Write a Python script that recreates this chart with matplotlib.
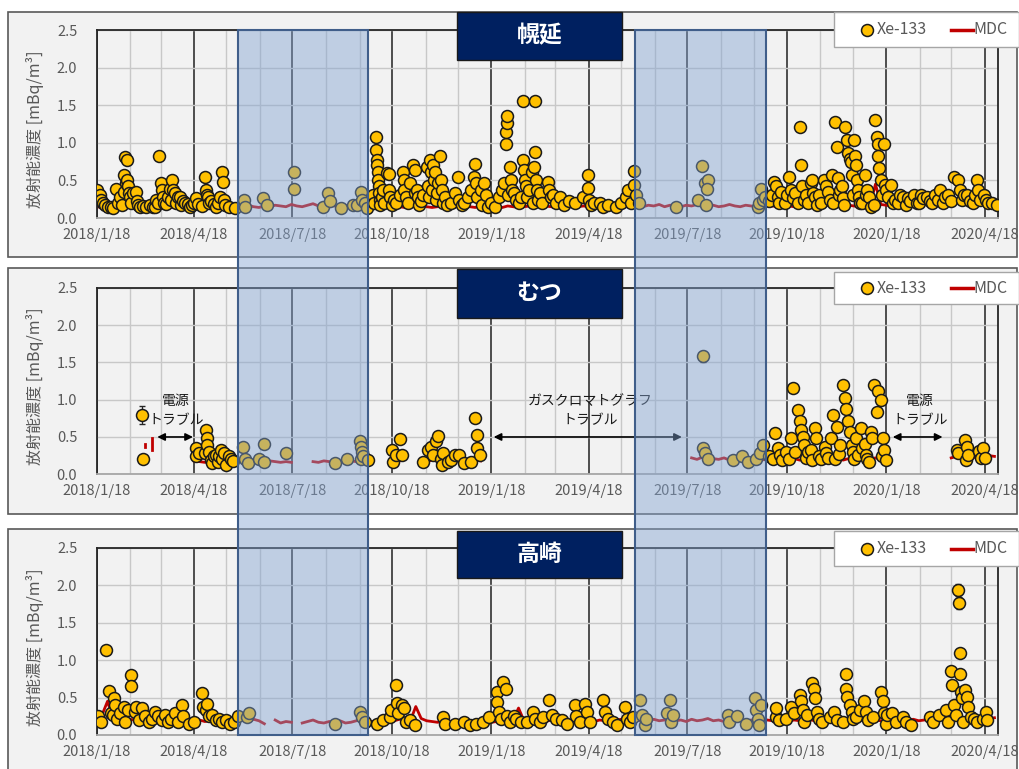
import matplotlib
matplotlib.use("Agg")
import matplotlib.pyplot as plt
import matplotlib.dates as mdates
from matplotlib.patches import Rectangle
from matplotlib.lines import Line2D
import numpy as np
import pandas as pd

plt.rcParams['font.family'] = ['Noto Sans CJK JP', 'DejaVu Sans']

# ---- data (day offsets from 2018/1/18, values in mBq/m3) ----
T0 = pd.Timestamp("2018-01-18")
XMAX = pd.Timestamp("2020-04-30")
na = np.nan

sites = ["幌延", "むつ", "高崎"]

horonobe_xe = [
    (0, .37), (1, .28), (3, .30), (4, .24), (6, .20), (8, .17), (10, .15), (13, .14), (15, .13), (18, .39),
    (20, .20), (22, .28), (23, .17), (25, .35), (25, .57), (26, .81), (27, .46), (28, .77), (28, .50), (29, .42),
    (30, .33), (31, .28), (32, .20), (34, .33), (36, .35), (37, .22), (38, .17), (40, .15), (43, .16), (46, .15),
    (49, .17), (52, .14), (54, .15), (55, .24), (57, .20), (58, .82), (59, .46), (60, .37), (61, .28), (62, .20),
    (64, .18), (66, .28), (68, .39), (69, .24), (70, .50), (71, .37), (72, .33), (73, .20), (75, .28), (77, .28),
    (78, .17), (80, .22), (82, .20), (84, .18), (86, .15), (88, .17), (90, .20), (92, .26), (94, .18), (97, .16),
    (100, .55), (101, .37), (102, .30), (103, .28), (104, .20), (106, .22), (108, .18), (110, .15), (112, .20),
    (114, .28), (116, .61), (117, .48), (118, .24), (119, .17), (122, .15), (128, .13),
    (136, .24), (137, .15), (154, .26), (157, .17), (182, .61), (182, .39), (209, .15), (214, .33), (216, .22),
    (226, .13), (237, .17), (241, .17), (244, .35), (245, .24), (248, .20), (250, .13),
    (255, .30), (256, .20), (258, 1.08), (258, .90), (259, .77), (259, .70), (260, .61), (260, .50), (261, .42),
    (261, .33), (262, .24), (262, .17), (264, .28), (265, .37), (266, .20), (268, .60), (270, .59), (270, .37),
    (271, .28), (273, .17), (275, .24), (277, .20), (280, .30), (283, .61), (284, .50), (284, .37), (286, .28),
    (288, .20), (290, .46), (292, .70), (294, .64), (294, .33), (296, .37), (297, .28), (298, .17), (300, .22),
    (302, .30), (305, .68), (306, .42), (307, .28), (308, .77), (309, .61), (310, .37), (311, .70), (312, .50),
    (313, .61), (314, .24), (315, .33), (316, .46), (317, .82), (318, .50), (319, .37), (320, .20), (322, .28),
    (324, .17), (328, .20), (331, .33), (334, .55), (335, .24), (338, .17), (340, .20), (343, .28), (346, .37),
    (349, .55), (350, .72), (351, .46), (352, .28), (355, .37), (356, .17), (358, .46), (360, .30), (362, .15),
    (365, .20), (368, .15),
    (372, .28), (375, .37), (377, .46), (378, .99), (378, 1.15), (379, 1.26), (379, 1.35), (380, .30), (382, .68),
    (383, .50), (384, .37), (386, .33), (388, .24), (390, .20), (392, .28), (394, 1.55), (394, .77), (395, .64),
    (396, .50), (397, .42), (398, .28), (400, .37), (402, .61), (403, .20), (404, .68), (405, 1.55), (405, .88),
    (406, .50), (407, .37), (408, .24), (410, .33), (412, .20),
    (417, .48), (418, .37), (420, .28), (422, .30), (425, .20), (428, .28), (432, .17), (437, .22), (442, .20),
    (450, .28), (454, .57), (454, .40), (455, .24), (457, .17), (460, .20), (465, .20), (468, .15), (473, .17),
    (480, .15), (485, .20), (489, .28), (491, .37), (494, .20), (497, .62), (497, .44), (499, .30), (501, .20),
    (536, .15), (556, .24), (560, .69), (562, .46), (565, .50), (564, .39), (563, .17), (611, .15), (612, .20),
    (614, .39), (616, .24), (618, .28),
    (622, .22), (624, .30), (626, .48), (628, .42), (630, .28), (631, .20), (633, .35), (636, .20), (638, .30),
    (640, .55), (642, .37), (644, .26), (646, .33), (648, .20), (650, 1.21), (651, .70), (652, .42), (654, .24),
    (656, .30), (658, .20), (660, .46), (661, .50), (662, .33), (664, .28), (666, .17), (668, .30), (670, .20),
    (672, .50), (674, .42), (676, .35), (678, .24), (680, .57), (681, .20), (683, 1.28), (684, .95), (685, .53),
    (686, .30), (687, .37), (689, .42), (690, .26), (691, .17), (692, 1.21), (694, 1.04), (695, .86), (696, .79),
    (697, .75), (698, .57), (699, .30), (700, 1.04), (701, .82), (702, .70), (703, .50), (704, .37), (705, .28),
    (706, .20), (708, .20), (710, .57), (711, .30), (712, .37), (714, .28), (716, .15), (719, .17), (720, 1.30),
    (721, 1.08), (722, .99), (722, .82), (723, .66), (725, .50), (726, .30), (728, .99), (729, .44), (730, .37),
    (732, .28), (734, .44), (736, .20), (738, .24),
    (741, .20), (743, .30), (745, .28), (748, .17), (750, .26), (752, .22), (756, .31), (758, .20), (760, .20),
    (762, .30), (764, .26), (768, .28), (770, .22), (772, .20), (775, .31), (778, .24), (780, .37), (782, .20),
    (784, .28), (787, .30), (790, .22), (793, .55), (796, .50), (798, .37), (800, .24), (802, .30), (805, .31),
    (807, .22), (810, .20), (812, .30), (814, .50), (815, .37), (817, .24), (820, .31), (822, .24), (824, .20),
    (828, .20), (832, .17),
]

mutsu_xe = [
    (42, .80), (43, .21),
    (92, .35), (92, .24), (95, .29), (100, .28), (101, .59), (102, .48), (102, .39), (104, .30), (106, .19),
    (107, .15), (108, .24), (110, .26), (112, .17), (113, .24), (115, .33), (116, .21), (118, .28), (120, .13),
    (122, .24), (124, .20), (126, .18),
    (135, .37), (137, .21), (140, .15), (150, .20), (155, .40), (155, .17), (175, .28), (220, .15), (231, .21),
    (243, .45), (244, .37), (245, .30), (244, .21), (246, .24), (251, .19),
    (273, .33), (274, .17), (277, .26), (280, .47), (282, .26),
    (302, .17), (306, .33), (309, .37), (311, .26), (314, .44), (316, .51), (318, .21), (319, .13), (320, .28),
    (325, .17), (328, .19), (331, .26), (335, .26), (340, .15), (346, .17), (350, .75), (352, .53), (352, .35),
    (354, .26),
    (561, 1.58), (561, .35), (562, .28), (565, .21), (588, .19), (597, .24), (602, .17), (610, .21), (613, .28),
    (616, .39),
    (622, .24), (625, .20), (627, .55), (630, .35), (632, .26), (634, .19), (637, .30), (640, .20), (642, .48),
    (644, 1.15), (646, .30), (648, .86), (650, .71), (651, .60), (653, .50), (654, .39), (656, .22), (658, .30),
    (660, .33), (661, .19), (664, .62), (665, .48), (668, .24), (670, .20), (673, .37), (674, .28), (676, .22),
    (679, .48), (681, .80), (683, .20), (684, .64), (686, .27), (687, .39), (690, 1.20), (692, 1.02), (693, .88),
    (695, .71), (696, .57), (698, .39), (699, .30), (700, .20), (702, .48), (704, .26), (707, .62), (708, .35),
    (710, .40), (711, .26), (712, .20), (714, .17), (716, .57), (717, .48), (719, 1.20), (721, .84), (722, 1.11),
    (725, .99), (726, .25), (727, .48), (728, .33), (730, .19),
    (795, .33), (796, .28), (803, .46), (804, .19), (805, .37), (806, .26), (816, .31), (818, .22), (819, .35),
    (821, .22),
]

takasaki_xe = [
    (1, .25), (4, .18), (9, 1.14), (11, .59), (13, .29), (15, .27), (16, .49), (17, .40), (19, .22), (22, .29),
    (25, .38), (26, .18), (29, .33), (32, .80), (32, .65), (35, .31), (36, .38), (39, .20), (42, .36), (45, .25),
    (48, .18), (51, .22), (54, .31), (57, .25), (60, .20), (63, .27), (66, .18), (69, .22), (72, .29), (75, .18),
    (79, .40), (80, .25), (85, .15), (90, .18), (97, .56), (98, .38), (101, .33), (102, .42), (104, .25),
    (107, .27), (110, .20), (113, .22), (116, .18), (120, .20), (123, .15), (127, .18), (131, .26),
    (139, .24), (141, .29), (220, .15), (243, .31), (245, .24), (248, .18),
    (259, .15), (265, .20), (271, .24), (272, .33), (277, .67), (278, .43), (279, .29), (282, .40), (284, .36),
    (286, .18), (290, .20), (294, .13), (320, .24), (322, .15), (331, .15), (340, .18), (345, .13), (351, .15),
    (357, .18), (363, .24),
    (370, .58), (370, .44), (372, .31), (374, .22), (376, .71), (378, .62), (379, .25), (382, .18), (386, .25),
    (388, .22), (392, .18), (398, .17), (403, .31), (405, .22), (410, .17), (413, .24), (418, .47), (421, .27),
    (425, .22), (430, .20), (435, .15), (442, .40), (443, .25), (447, .18), (451, .42), (453, .31), (456, .18),
    (468, .47), (470, .31), (473, .22), (477, .18), (481, .13), (488, .38), (490, .22), (493, .18), (496, .24),
    (502, .47), (504, .27), (507, .13), (508, .22), (527, .29), (530, .47), (531, .18), (533, .27), (584, .27),
    (585, .18), (592, .26), (600, .15), (609, .49), (610, .33), (611, .22), (612, .13), (614, .40),
    (628, .24), (628, .36), (631, .20), (637, .22), (642, .38), (645, .29), (650, .53), (651, .45), (653, .33),
    (654, .18), (657, .27), (661, .69), (663, .62), (664, .49), (666, .31), (668, .22), (671, .18), (678, .24),
    (682, .31), (684, .20), (690, .18), (693, .82), (693, .62), (694, .51), (696, .40), (698, .31), (699, .22),
    (702, .24), (706, .33), (709, .45), (711, .31), (713, .20), (718, .24), (725, .58), (727, .45), (728, .29),
    (730, .15), (731, .27), (735, .29), (739, .18), (745, .24), (748, .18), (753, .13),
    (770, .24), (773, .18), (779, .27), (785, .33), (787, .18), (790, .85), (791, .67), (793, .40), (794, .27),
    (796, 1.94), (797, 1.76), (798, 1.09), (798, .82), (799, .58), (800, .49), (801, .18), (803, .60), (805, .51),
    (806, .38), (808, .24), (811, .22), (814, .18), (819, .22), (822, .31), (823, .20),
]

# error bars only visible on a few points: (day, value, err)
horonobe_err = [(394, 1.55, .05), (405, 1.55, .05), (650, 1.21, .03), (683, 1.28, .03), (720, 1.30, .04)]
mutsu_err = [(42, .80, .12), (561, 1.58, .07), (644, 1.15, .04), (690, 1.20, .04), (719, 1.20, .04)]
takasaki_err = [(9, 1.14, .04), (796, 1.94, .08), (797, 1.76, .08)]

# MDC, one value every 5 days from 2018/1/18
mdc_step = 5
horonobe_mdc = [
    .15, .14, .16, .15, .13, .15, .16, .14, .15, .17, .15, .14, .16, .15, .14, .16, .15, .17, .15, .14, .16, .15, .14, .15, .16, .14,
    .16, .15, .17, .15, .14, .16, .15, .17, .16, .15, .18, .16, .15, .17, .19, .16, .15, .17, .16, .15, .17, .15, .16, .17, .15,
    .15, .16, .14, .15, .16, .15, .14, .16, .15, .17, .15, .14, .15, .16, .15, .14, .16, .15, .15, .14, .16, .15, .17, .15, .14,
    .16, .15, .14, .15, .16, .15, .17, .16, .15, .14, .16, .15, .17, .15, .16, .15, .17, .18, .16, .15, .17, .16, .15, .17,
    .16, .15, .17, .16, .18, .15, .17, .16, .15, .17, .16, .18, .15, .16, .17, .15, .16, .18, .16, .15, .17, .16, .15, .17, .16,
    .16, .15, .17, .16, .15, .16, .17, .15, .16, .15, .17, .16, .15, .16, .17, .16, .15, .16, .17, .45, .18, .17, .16, .15, .30,
    .22, .20, .21, .19, .20, .22, .20, .19, .21, .20, .22, .21, .20, .22, .21, .23, .22,
]
mutsu_mdc = [
    na, na, na, na, na, na, na, na, na, .37, na,
    .44, na, na, na, na, na, na,
    .18, .17, .16, .18, .17, .15, .17, .16, .18, .17, .15, .16, .17, .16, .18, .17, .16, .17, .16,
    na, na, na,
    .17, .16, .18, .17, .15, .17, .16, .18, .17, .16, .17,
    na, na, na, na,
    .17, .18,
    na, na, na,
    .18, .17, .19, .18, .20, .17, .18, .19, .17, .18, .19, .18,
    na, na, na, na, na, na, na, na, na, na, na, na, na, na, na, na, na, na, na,
    na, na, na, na, na, na, na, na, na, na, na, na, na, na, na, na, na, na, na,
    .22, .20, .23, .19, .21, .20, .22, .19, .21, .20, .18, .21, .20, .19, .21, .20, .22, .19, .20,
    .21, .19, .20, .22, .20, .19, .21, .20, .22, .19, .21, .20, .19, .21, .20, .22, .20, .21,
    na, na, na, na, na, na, na, na, na, na, na,
    .22, .24, .23, .25, .22, .24, .23, .25, .24,
]
# isolated MDC dashes at the start of the むつ record: (day, low, high)
mutsu_mdc_dash = [(45, .36, .41), (51, .33, .48)]
takasaki_mdc = [
    .25, .27, .45, .22, .20, .19, .21, .20, .18, .20, .19, .21, .20, .18, .19, .20, .18, .19, .21, .20, .18, .19, .20, .18, .19, .20,
    .19, .20, .18, .21, .19, .15, na, .20, .16, .18, .17, na, .16, .18, .20, .17, .16, .18, .17, .19, .16, .17, .19, .20, .18,
    .18, .19, .20, .18, .19, .21, .20, .19, .38, .22, .19, .18, .17, .18, .19, .17, .18, .19, .18, .17, .19, .18, .17, .18, .20,
    .19, .20, .36, .19, .18, .20, .19, .18, .20, .19, .18, .20, .19, .21, .20, .19, .18, .20, .19, .18, .20, .21, .19, .20,
    .19, .20, .18, .21, .19, .20, .22, .19, .20, .18, .21, .19, .20, .22, .19, .20, .18, .19, .21, .20, .18, .20, .19, .21, .20,
    .19, .20, .18, .19, .20, .19, .18, .20, .19, .21, .20, .18, .19, .20, .18, .19, .20, .19, .21, .20, .19, .18, .20, .19, .18,
    .20, .21, .19, .20, .22, .20, .21, .19, .22, .20, .21, .23, .21, .22, .24, .22, .23,
]

# summer periods shaded across all three panels
shade_from = ["2018-05-29", "2019-05-31"]
shade_to = ["2018-09-26", "2019-09-29"]

# panel-2 trouble annotations: (from, to, label, label centre)
troubles = [
    ("2018-03-15", "2018-04-17", "電源", "トラブル", "2018-04-01"),
    ("2019-01-20", "2019-07-13", "ガスクロマトグラフ", "トラブル", "2019-04-19"),
    ("2020-01-24", "2020-03-10", "電源", "トラブル", "2020-02-18"),
]

# ---- layout (pixel rows of the reference) ----
W, H = 1019, 769
fx = lambda x: x / W
fy = lambda y: 1 - y / H
ax_rows = [(30, 218), (287.7, 474.3), (547.7, 735)]
box_rows = [(12, 257), (268, 514), (529, 800)]
title_rows = [(12, 60), (269, 318), (531, 578)]
legend_rows = [(12, 47), (272, 304), (531, 566)]

YEL, RED, GREY = "#FFC000", "#C00000", "#595959"
MS, MEW = 8.6, 1.1

fig = plt.figure(figsize=(W / 100, H / 100), dpi=100)
fig.patch.set_facecolor("white")

to_dates = lambda days: T0 + pd.to_timedelta(np.asarray(days, float), unit="D")
datefmt = lambda x, p: (lambda d: f"{d.year}/{d.month}/{d.day}")(mdates.num2date(x))

axes = []
for i, (site, xe, err, mdc) in enumerate(zip(sites, [horonobe_xe, mutsu_xe, takasaki_xe],
                                               [horonobe_err, mutsu_err, takasaki_err],
                                               [horonobe_mdc, mutsu_mdc, takasaki_mdc])):
    top, bot = ax_rows[i]
    b0, b1 = box_rows[i]
    fig.add_artist(Rectangle((fx(8), fy(b1)), fx(1017) - fx(8), (b1 - b0) / H, transform=fig.transFigure,
                             fc="#f2f2f2", ec="#595959", lw=1.2, zorder=-5))
    ax = fig.add_axes([fx(96.7), fy(bot), fx(997.7) - fx(96.7), (bot - top) / H])
    ax.set_facecolor("none")
    axes.append(ax)

    mdc_days = np.arange(len(mdc)) * mdc_step
    ax.plot(to_dates(mdc_days), np.array(mdc, float), color=RED, lw=2.0, zorder=2)
    ed, ev, ee = zip(*err)
    ax.errorbar(to_dates(ed), ev, yerr=ee, fmt="none", ecolor="#262626", elinewidth=0.9, capsize=2, zorder=2.5)
    d, v = zip(*xe)
    ax.plot(to_dates(d), v, "o", ls="none", ms=MS, mfc=YEL, mec="#1a1a1a", mew=MEW, zorder=3)

    ax.set_xlim(T0, XMAX)
    ax.set_ylim(0, 2.5)
    ax.set_yticks([0, 0.5, 1.0, 1.5, 2.0, 2.5])
    ax.yaxis.set_major_formatter(lambda y, p: f"{y:.1f}")
    ax.xaxis.set_major_locator(mdates.MonthLocator(bymonth=[1, 4, 7, 10], bymonthday=18))
    ax.xaxis.set_minor_locator(mdates.MonthLocator(bymonthday=18))
    ax.xaxis.set_major_formatter(datefmt)
    ax.grid(axis="x", which="minor", color="#c8c8c8", lw=1.0)
    ax.grid(axis="x", which="major", color="#404040", lw=1.3)
    ax.grid(axis="y", which="major", color="#c8c8c8", lw=1.0)
    ax.set_axisbelow(True)
    ax.tick_params(which="both", length=0)
    ax.tick_params(axis="x", pad=7, labelsize=10.5, labelcolor=GREY)
    ax.tick_params(axis="y", pad=14, labelsize=10.5, labelcolor=GREY)
    for s in ["top", "left", "right"]:
        ax.spines[s].set_color("#262626")
        ax.spines[s].set_linewidth(1.3)
    ax.spines["bottom"].set_color("#a6a6a6")
    ax.spines["bottom"].set_linewidth(1.3)

    fig.text(fx(35), fy(top + 0.53 * (bot - top)), "放射能濃度 [mBq/m³]", rotation=90,
             ha="center", va="center", fontsize=11.5, color=GREY)

    # site title box
    t0, t1 = title_rows[i]
    fig.add_artist(Rectangle((fx(457), fy(t1)), fx(622) - fx(457), (t1 - t0) / H, transform=fig.transFigure,
                             fc="#002060", ec="#1a1a1a", lw=1.0, zorder=6))
    fig.text(fx(539.5), fy((t0 + t1) / 2), site, ha="center", va="center", fontsize=16.5,
             fontweight="bold", color="white", zorder=7)

    # legend box
    l0, l1 = legend_rows[i]
    ly = fy((l0 + l1) / 2)
    fig.add_artist(Rectangle((fx(834), fy(l1)), fx(1019) - fx(834), (l1 - l0) / H, transform=fig.transFigure,
                             fc="white", ec="#a6a6a6", lw=1.0, zorder=6))
    fig.add_artist(Line2D([fx(867)], [ly], transform=fig.transFigure, marker="o", ms=MS, mfc=YEL,
                          mec="#1a1a1a", mew=MEW, zorder=7))
    fig.text(fx(877), ly, "Xe-133", ha="left", va="center", fontsize=11.5, color=GREY, zorder=7)
    fig.add_artist(Line2D([fx(951), fx(973)], [ly, ly], transform=fig.transFigure, color=RED, lw=2.5, zorder=7))
    fig.text(fx(973), ly, "MDC", ha="left", va="center", fontsize=11.5, color=GREY, zorder=7)

# short MDC dashes before the first power outage at むつ
for dd, lo, hi in mutsu_mdc_dash:
    axes[1].plot(to_dates([dd, dd]), [lo, hi], color=RED, lw=2.0, zorder=2)

# trouble arrows on the むつ panel
ax = axes[1]
for a, b, l1, l2, c in troubles:
    ax.annotate("", xy=(pd.Timestamp(b), 0.5), xytext=(pd.Timestamp(a), 0.5),
                arrowprops=dict(arrowstyle="<|-|>", color="black", lw=1.2, mutation_scale=11,
                                shrinkA=0, shrinkB=0), zorder=4)
    ax.text(pd.Timestamp(c), 0.98, l1, ha="center", va="center", fontsize=10, color="#1a1a1a", zorder=4)
    ax.text(pd.Timestamp(c), 0.73, l2, ha="center", va="center", fontsize=10, color="#1a1a1a", zorder=4)

# shaded summer bands, drawn over all three panels
inv = fig.transFigure.inverted()
y_top = fy(ax_rows[0][0])
y_bot = fy(ax_rows[2][1])
for a, b in zip(shade_from, shade_to):
    xa = inv.transform(axes[0].transData.transform((mdates.date2num(pd.Timestamp(a)), 0)))[0]
    xb = inv.transform(axes[0].transData.transform((mdates.date2num(pd.Timestamp(b)), 0)))[0]
    fig.add_artist(Rectangle((xa, y_bot), xb - xa, y_top - y_bot, transform=fig.transFigure,
                             fc=(0.51, 0.64, 0.82, 0.45), ec=(0.25, 0.37, 0.54, 1.0), lw=1.5, zorder=5))

fig.savefig("out.png", dpi=100)
